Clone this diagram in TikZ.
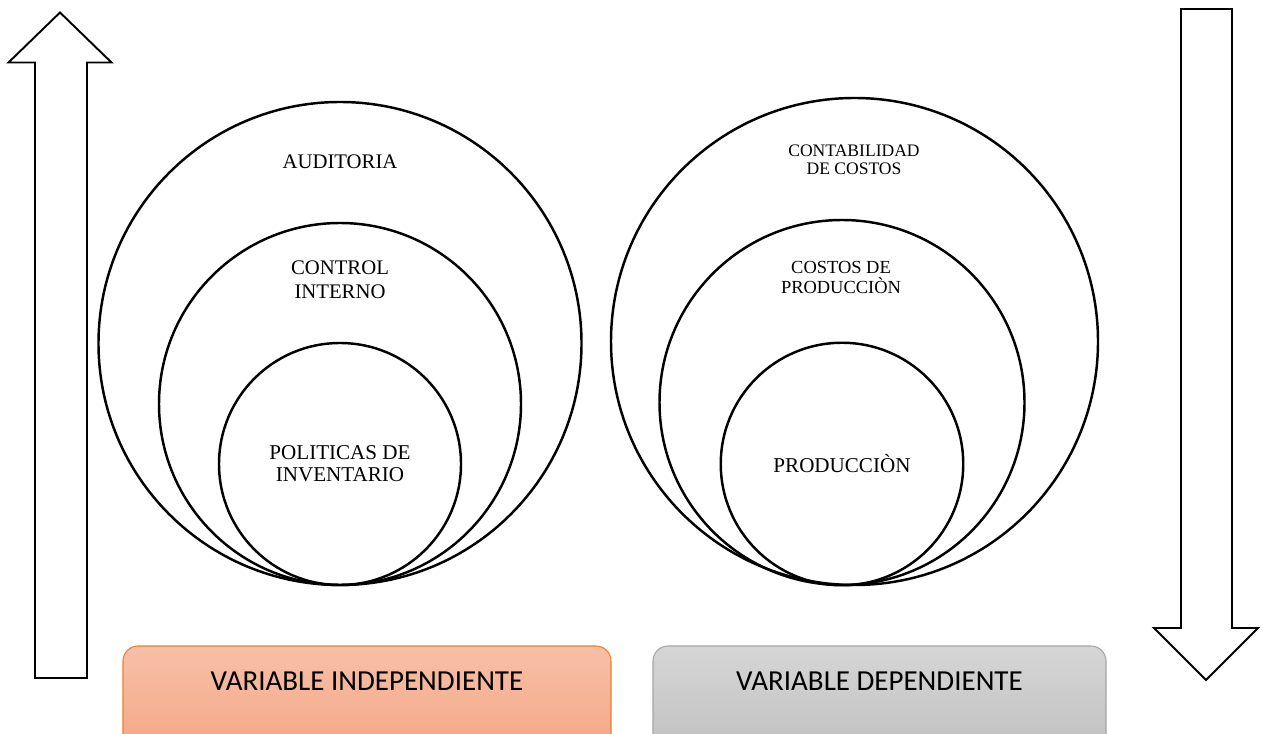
\documentclass[tikz,border=0pt]{standalone}
\usepackage{fontspec}
\setmainfont{Liberation Serif}
\newfontfamily\boxfont{Carlito}
\usetikzlibrary{positioning}

\definecolor{arancio}{RGB}{237,125,49}
\definecolor{aranciochiaro}{RGB}{247,192,167}
\definecolor{aranciocarico}{RGB}{244,164,130}
\definecolor{grigiobordo}{RGB}{165,165,165}
\definecolor{grigiochiaro}{RGB}{214,214,214}
\definecolor{grigiocarico}{RGB}{190,190,190}

\tikzset{
  anello/.style={circle, draw, line width=1.4pt, inner sep=0pt},
  freccia/.style={draw, line width=1.1pt, line join=miter, fill=white},
  etichetta/.style={align=center, inner sep=0pt},
  riquadro/.style={rounded corners=0.3cm, line width=0.6pt, inner sep=0pt},
  scritta/.style={font=\boxfont\fontsize{16.5}{18}\selectfont, anchor=base, inner sep=0pt}
}

\begin{document}
\begin{tikzpicture}
    \useasboundingbox (0,0) rectangle (25.26,14.66);

    % --- Freccia verso l'alto ---
    \draw[freccia] (0.70,1.10) -- (0.70,13.41) -- (0.17,13.41) -- (1.20,14.41)
        -- (2.23,13.41) -- (1.74,13.41) -- (1.74,1.10) -- cycle;

    % --- Freccia verso il basso ---
    \draw[freccia] (23.62,14.48) -- (23.62,2.10) -- (23.08,2.10) -- (24.12,1.06)
        -- (25.16,2.10) -- (24.64,2.10) -- (24.64,14.48) -- cycle;

    % --- Cerchi a sinistra ---
    \begin{scope}[shift={(6.8,2.96)}]
        \node[anello, minimum size=9.66cm] (auditoria) at (0,4.83) {};
        \node[anello, minimum size=7.24cm] (control) at (0,3.62) {};
        \node[anello, minimum size=4.84cm] (politicas) at (0,2.42) {};

        \node[etichetta, font=\fontsize{11.8}{13.7}\selectfont] (t-auditoria) at (0,8.46) {AUDITORIA};
        \node[etichetta, font=\fontsize{11.8}{13.7}\selectfont] (t-control) at (0,6.10) {CONTROL\\INTERNO};
        \node[etichetta, font=\fontsize{12}{12.5}\selectfont] (t-politicas) at (0,2.42) {POLITICAS DE\\INVENTARIO};
    \end{scope}

    % --- Cerchi a destra ---
    \begin{scope}[shift={(16.84,2.96)}]
        \node[anello, minimum size=9.74cm] (contabilidad) at (0.25,4.87) {};
        \node[anello, minimum size=7.30cm] (costos) at (0,3.65) {};
        \node[anello, minimum size=4.85cm] (produccion) at (0,2.42) {};

        \node[etichetta, font=\fontsize{10}{10.4}\selectfont] (t-contabilidad) at (0.24,8.50) {CONTABILIDAD\\DE COSTOS};
        \node[etichetta, font=\fontsize{10.5}{11.4}\selectfont] (t-costos) at (-0.02,6.15) {COSTOS DE\\PRODUCCIÒN};
        \node[etichetta, font=\fontsize{12}{13}\selectfont] (t-produccion) at (0,2.42) {PRODUCCIÒN};
    \end{scope}

    % --- Riquadri delle variabili ---
    \begin{scope}
        \clip (0,0) rectangle (25.26,14.66);
        \node[riquadro, draw=arancio, top color=aranciochiaro, bottom color=aranciocarico,
              minimum width=9.76cm, minimum height=2.34cm] (indip) at (7.34,0.57) {};
        \node[riquadro, draw=grigiobordo, top color=grigiochiaro, bottom color=grigiocarico,
              minimum width=9.06cm, minimum height=2.34cm] (dip) at (17.59,0.57) {};
    \end{scope}
    \node[scritta] (t-indip) at (indip.center |- 0,0.86) {VARIABLE INDEPENDIENTE};
    \node[scritta] (t-dip) at (dip.center |- 0,0.86) {VARIABLE DEPENDIENTE};
\end{tikzpicture}
\end{document}
